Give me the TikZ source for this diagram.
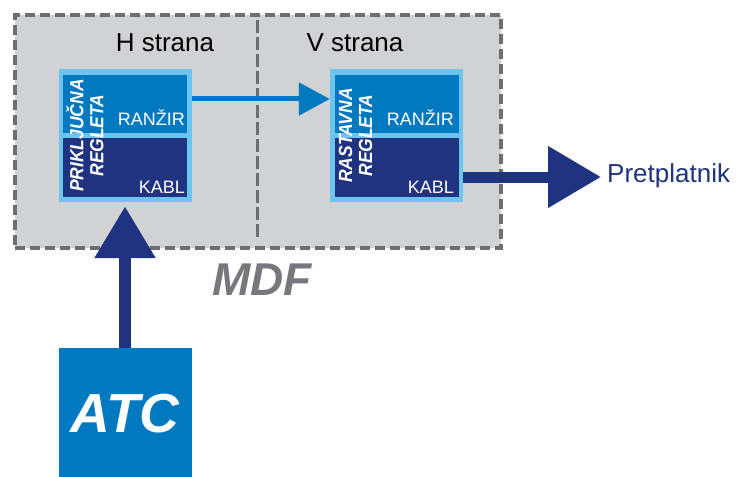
\documentclass[tikz,border=0pt]{standalone}
\usepackage{fontspec}
\setmainfont{Liberation Sans}
\newfontfamily\condsans[FakeStretch=0.92]{Liberation Sans}
\usetikzlibrary{arrows.meta}
\definecolor{mdfgray}{HTML}{D1D2D4}
\definecolor{dashgray}{HTML}{6D6E71}
\definecolor{lightb}{HTML}{6CC4EF}
\definecolor{midb}{HTML}{0079C1}
\definecolor{navyb}{HTML}{1F3380}
\definecolor{mdftext}{HTML}{77787B}
\tikzset{
  mdfbox/.style={draw=dashgray, fill=mdfgray, line width=4.5pt, dash pattern=on 10pt off 5pt, minimum width=486pt, minimum height=233pt, inner sep=0pt},
  divider/.style={draw=dashgray, line width=3pt, dash pattern=on 13pt off 4pt},
  outerblk/.style={fill=lightb, minimum width=133pt, minimum height=133pt, inner sep=0pt},
  topbox/.style={fill=midb, minimum width=124pt, minimum height=58pt, inner sep=0pt},
  botbox/.style={fill=navyb, minimum width=124pt, minimum height=59pt, inner sep=0pt},
  smalllbl/.style={text=white, inner sep=0pt, font=\fontsize{18}{20}\selectfont},
  vertlbl/.style={text=white, rotate=90, align=center, inner sep=0pt, font=\condsans\fontsize{19}{20}\selectfont\bfseries\itshape},
  heading/.style={text=black, inner sep=0pt, font=\fontsize{26}{30}\selectfont},
  atcbox/.style={fill=midb, text=white, minimum width=133pt, minimum height=132pt, inner sep=0pt, font=\fontsize{55}{60}\selectfont\bfseries\itshape},
  thinarrow/.style={draw=midb, line width=5pt, -{Triangle[length=31pt,width=32pt]}},
  thickarrow/.style={draw=navyb, line width=11pt, -{Triangle[length=53pt,width=59pt]}}
}
\begin{document}
\begin{tikzpicture}[x=1pt,y=-1pt]
\useasboundingbox (0,0) rectangle (743,476);
% MDF frame
\node[mdfbox] (mdfframe) at (258,131.5) {};
\coordinate (divtop) at (257,20);
\coordinate (divbot) at (257,240);
\draw[divider] (divtop) -- (divbot);
\node[heading, anchor=base] (hstr) at (165,52) {H strana};
\node[heading, anchor=base] (vstr) at (355,52) {V strana};
% left block
\node[outerblk] (lblock) at (125,135.5) {};
\node[topbox] (ltop) at (125,104) {};
\node[botbox] (lbot) at (125,167.5) {};
\node[smalllbl, anchor=base east] (lran) at (185,125) {RANŽIR};
\node[smalllbl, anchor=base east] (lkab) at (185,193) {KABL};
\node[vertlbl] (lname) at (85,135.5) {PRIKLJUČNA\\REGLETA};
% right block
\node[outerblk] (rblock) at (396.5,135.5) {};
\node[topbox] (rtop) at (396.5,104) {};
\node[botbox] (rbot) at (396.5,167.5) {};
\node[smalllbl, anchor=base east] (rran) at (454,125) {RANŽIR};
\node[smalllbl, anchor=base east] (rkab) at (454,193) {KABL};
\node[vertlbl] (rname) at (355.5,135.5) {RASTAVNA\\REGLETA};
% MDF label
\node[text=mdftext, anchor=base west, inner sep=0pt, font=\fontsize{46}{50}\selectfont\bfseries\itshape] (mdf) at (212,295) {MDF};
% ATC
\node[atcbox] (atc) at (125,414) {\raisebox{2pt}{ATC}};
% Pretplatnik
\node[text=navyb, anchor=base west, inner sep=0pt, font=\fontsize{26}{30}\selectfont] (pret) at (607,182) {Pretplatnik};
\coordinate (ptip) at (601,177);
% connectors
\draw[thinarrow] (lblock.east |- 0,99) -- (rblock.west |- 0,99);
\draw[thickarrow] (rblock.east |- ptip) -- (ptip);
\draw[draw=navyb, line width=12pt, -{Triangle[length=52pt,width=58pt]}, shorten >=4pt] (atc.north) -- (lblock.south);
\end{tikzpicture}
\end{document}
